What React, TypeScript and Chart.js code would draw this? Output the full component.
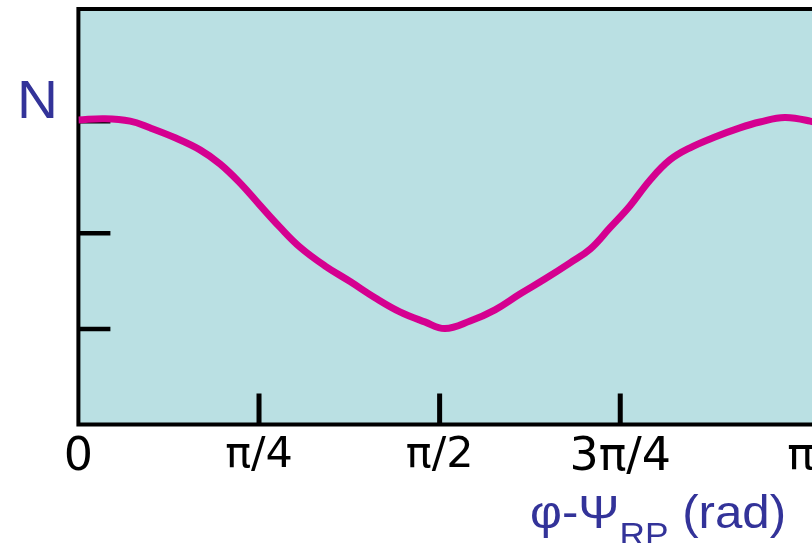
import React, { useEffect, useRef } from "react";
import { Chart, registerables } from "chart.js";

Chart.register(...registerables);

// ---- data ----
const xTickValues = [0, 45, 90, 135, 180];
const xTickLabels = ["0", "π/4", "π/2", "3π/4", "π"];
const xTickMarks = [false, true, true, true, false];
const xTickSizes = [46, 43, 43, 46, 45];
const yTickValues = [23, 46, 73];

const curveX = [
  0, 6.6, 12.9, 17.8, 24.1, 30.3, 35.3, 40.3, 45.2, 50.2, 55.2, 61.4, 67.7, 73.9,
  80.1, 86.3, 91.3, 97.6, 103.8, 110.0, 116.2, 122.5, 127.5, 132.4, 137.4, 142.4,
  147.4, 152.4, 158.6, 164.8, 169.8, 176.0, 182.3, 189.7,
];
const curveY = [
  73.3, 73.6, 73.0, 71.4, 69.0, 66.1, 62.7, 58.1, 52.8, 47.5, 42.7, 38.2, 34.4, 30.5,
  27.1, 24.7, 23.1, 24.9, 27.6, 31.4, 35.0, 38.9, 42.2, 47.3, 52.6, 58.8,
  63.7, 66.6, 69.2, 71.4, 72.8, 73.9, 73.0, 70.9,
];

const BG = "rgb(186,224,227)";
const LINE = "rgb(213,0,144)";
const BLUE = "rgb(51,51,153)";

const framePlugin = {
  id: "frame",
  beforeDatasetsDraw(chart: any) {
    const { ctx, chartArea } = chart;
    const { left, right, top, bottom } = chartArea;
    const xs = chart.scales.x;
    const ys = chart.scales.y;
    ctx.save();
    ctx.fillStyle = BG;
    ctx.fillRect(left, top, right - left, bottom - top);
    ctx.strokeStyle = "#000";
    ctx.lineWidth = 4;
    ctx.strokeRect(left, top, right - left, bottom - top);
    // y ticks (inward)
    ctx.lineWidth = 4.5;
    ctx.beginPath();
    yTickValues.forEach((v) => {
      const y = ys.getPixelForValue(v);
      ctx.moveTo(left, y);
      ctx.lineTo(left + 32, y);
    });
    ctx.stroke();
    // x ticks (inward)
    ctx.lineWidth = 5;
    ctx.beginPath();
    xTickValues.forEach((v, i) => {
      if (!xTickMarks[i]) return;
      const x = xs.getPixelForValue(v);
      ctx.moveTo(x, bottom);
      ctx.lineTo(x, bottom - 31);
    });
    ctx.stroke();
    ctx.restore();
  },
};

export default function App() {
  const ref = useRef<HTMLCanvasElement | null>(null);

  useEffect(() => {
    if (!ref.current) return;
    const data = curveX.map((x, i) => ({ x, y: curveY[i] }));
    const chart = new Chart(ref.current, {
      type: "line",
      data: {
        datasets: [
          {
            data,
            borderColor: LINE,
            borderWidth: 7,
            pointRadius: 0,
            tension: 0.4,
            fill: false,
          },
        ],
      },
      options: {
        animation: false,
        responsive: false,
        maintainAspectRatio: false,
        devicePixelRatio: 1,
        layout: { padding: { left: 78.4, right: 19, top: 9, bottom: 0 } },
        plugins: { legend: { display: false }, tooltip: { enabled: false } },
        scales: {
          x: {
            type: "linear",
            min: 0,
            max: 190,
            grid: { display: false },
            border: { display: false },
            afterBuildTicks: (scale: any) => {
              scale.ticks = xTickValues.map((v) => ({ value: v }));
            },
            afterFit: (scale: any) => {
              scale.height = 118.5;
            },
            ticks: {
              padding: -2,
              color: "#000",
              maxRotation: 0,
              autoSkip: false,
              font: (c: any) => ({ family: "'DejaVu Sans'", size: xTickSizes[c.index] ?? 44 }),
              callback: (_v: any, i: number) => xTickLabels[i],
            },
          },
          y: {
            type: "linear",
            min: 0,
            max: 100,
            display: false,
          },
        },
      },
      plugins: [framePlugin],
    });
    return () => chart.destroy();
  }, []);

  return (
    <div
      style={{
        position: "fixed",
        left: 0,
        top: 0,
        width: 812,
        height: 543,
        overflow: "hidden",
        background: "#fff",
      }}
    >
      <canvas ref={ref} width={860} height={543} style={{ position: "absolute", left: 0, top: 0 }} />
      <div
        style={{
          position: "absolute",
          left: 17,
          top: 73,
          fontFamily: "'Liberation Sans', Arial, sans-serif",
          fontSize: 53,
          lineHeight: 1,
          color: BLUE,
          transform: "scaleX(1.07)",
          transformOrigin: "left top",
        }}
      >
        N
      </div>
      <div
        style={{
          position: "absolute",
          left: 530,
          top: 489,
          fontFamily: "'Liberation Sans', Arial, sans-serif",
          fontSize: 46,
          lineHeight: 1,
          color: BLUE,
          whiteSpace: "nowrap",
          transform: "scaleX(1.07)",
          transformOrigin: "left top",
        }}
      >
        φ-Ψ<span style={{ fontSize: 33, verticalAlign: -18 }}>RP</span> (rad)
      </div>
    </div>
  );
}
